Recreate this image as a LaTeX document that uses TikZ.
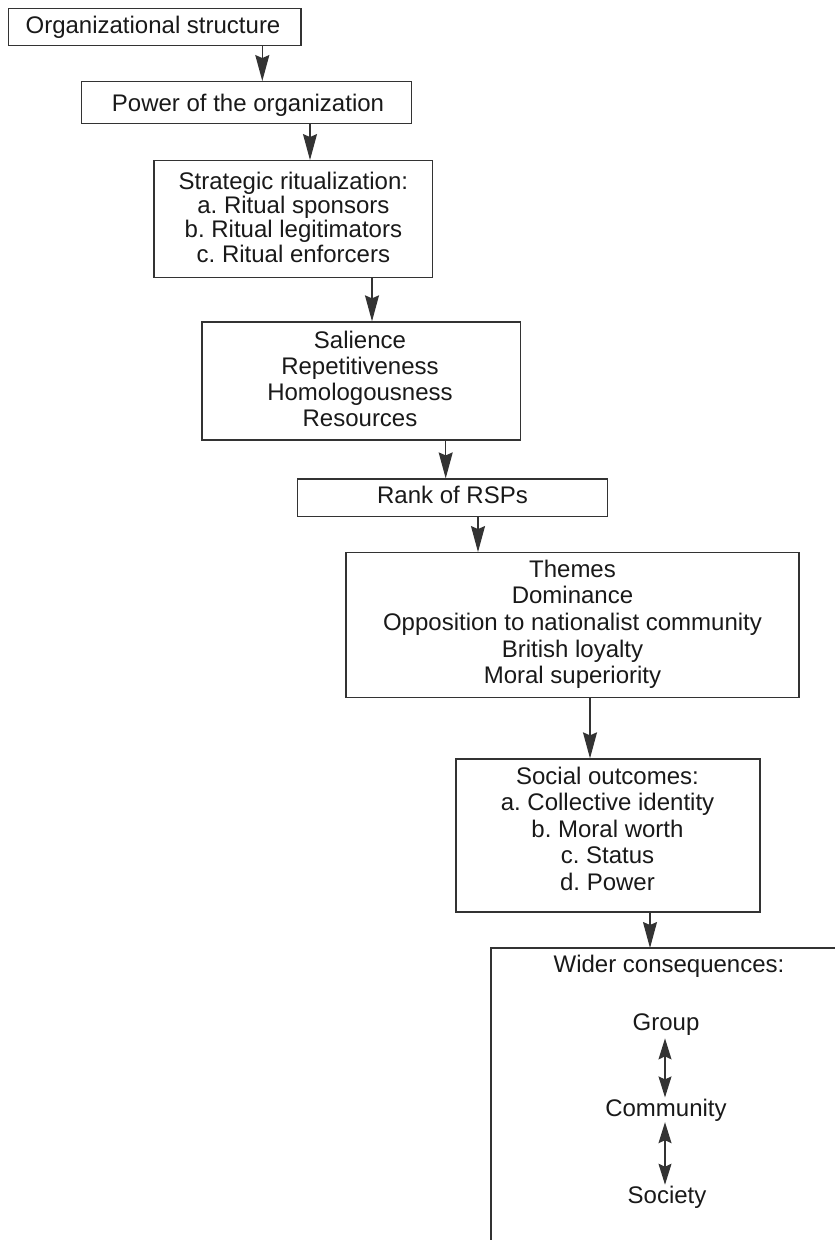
\documentclass[tikz,border=0pt]{standalone}
\usepackage{fontspec}
\setmainfont{Liberation Sans}
\frenchspacing
\usetikzlibrary{arrows.meta}
\begin{document}
\begin{tikzpicture}[x=1pt,y=1pt,
  box/.style={draw=black!80, line width=1.3pt, inner sep=0pt},
  txt/.style={inner sep=0pt, text=black!90, align=center, font=\fontsize{24}{#1}\selectfont},
  txt/.default=26,
  inner/.style={inner sep=1pt, text=black!90, font=\fontsize{24}{26}\selectfont},
  arr/.style={draw=black!80, line width=1.3pt, -{Stealth[length=26pt,width=14pt,inset=3pt]}},
  darr/.style={draw=black!80, line width=1.3pt, {Stealth[length=21pt,width=13pt,inset=3pt]}-{Stealth[length=21pt,width=13pt,inset=3pt]}}
]
\useasboundingbox (0,0) rectangle (835,-1240);

% boxes
\node[box, minimum width=292.7pt, minimum height=37.4pt] (b1) at (154.7,-27) {};
\node[box, minimum width=330pt, minimum height=41.6pt] (b2) at (246.7,-102.5) {};
\node[box, minimum width=278.7pt, minimum height=117pt] (b3) at (293.4,-219.2) {};
\node[box, minimum width=318.7pt, minimum height=118pt] (b4) at (361.4,-381) {};
\node[box, minimum width=309.6pt, minimum height=37.7pt] (b5) at (452.5,-497.9) {};
\node[box, minimum width=453pt, minimum height=145pt] (b6) at (572.5,-625.2) {};
\node[box, minimum width=304pt, minimum height=153pt] (b7) at (608,-835.5) {};
\draw[box] (491,-1241) -- (491,-948) coordinate (b8) -- (836,-948);

% texts
\node[txt, anchor=base] (t1) at (153,-33.3) {Organizational structure};
\node[txt, anchor=base] (t2) at (248,-111.7) {Power of the organization};
\node[txt=24.3, anchor=north] (t3) at (293.4,-171.8) {Strategic ritualization:\\a. Ritual sponsors\\b. Ritual legitimators\\c. Ritual enforcers};
\node[txt=26.1, anchor=north] (t4) at (360,-331.1) {Salience\\Repetitiveness\\Homologousness\\Resources};
\node[txt, anchor=base] (t5) at (452.5,-503.3) {Rank of RSPs};
\node[txt=26.65, anchor=north] (t6) at (572.5,-559.5) {Themes\\Dominance\\Opposition to nationalist community\\British loyalty\\Moral superiority};
\node[txt=26.5, anchor=north] (t7) at (607.5,-766.8) {Social outcomes:\\a. Collective identity\\b. Moral worth\\c. Status\\d. Power};
\node[txt, anchor=base] (t8) at (669,-972.7) {Wider consequences:};
\node[inner, anchor=base] (g) at (666,-1030.7) {Group};
\node[inner, anchor=base] (c) at (666,-1116) {Community};
\node[inner, anchor=base] (s) at (667,-1203.3) {Society};

% arrow x positions
\coordinate (x1) at (262.3,0);
\coordinate (x2) at (310,0);
\coordinate (x3) at (372,0);
\coordinate (x4) at (445.7,0);
\coordinate (x5) at (478,0);
\coordinate (x6) at (590,0);
\coordinate (x7) at (650,0);
\coordinate (xd) at (665,0);

\draw[arr] (b1.south -| x1) -- (b2.north -| x1);
\draw[arr] (b2.south -| x2) -- (b3.north -| x2);
\draw[arr] (b3.south -| x3) -- (b4.north -| x3);
\draw[arr] (b4.south -| x4) -- (b5.north -| x4);
\draw[arr] (b5.south -| x5) -- (b6.north -| x5);
\draw[arr] (b6.south -| x6) -- (b7.north -| x6);
\draw[arr] (b7.south -| x7) -- (b8 -| x7);
\draw[darr, shorten <=1.5pt] (g.south -| xd) -- (c.north -| xd);
\draw[darr] (c.south -| xd) -- (s.north -| xd);
\end{tikzpicture}
\end{document}
